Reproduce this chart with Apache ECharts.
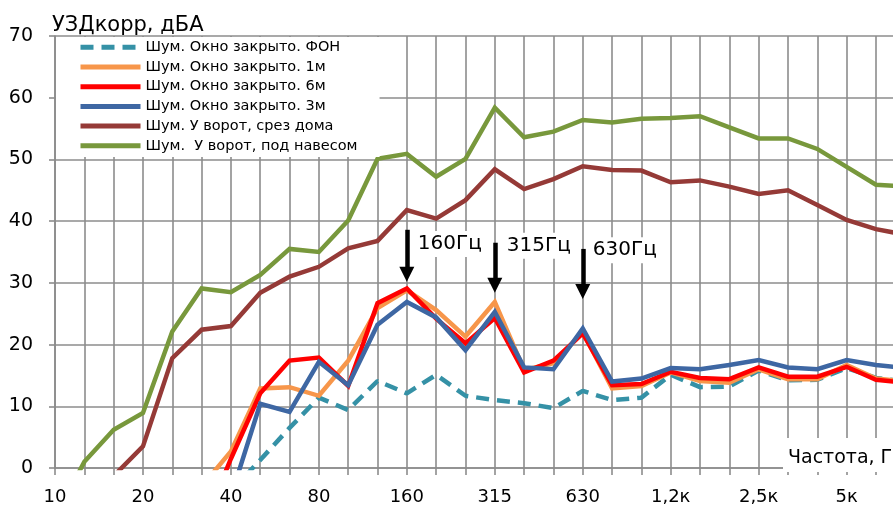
<!DOCTYPE html>
<html>
<head>
<meta charset="utf-8">
<script src="https://cdn.jsdelivr.net/npm/echarts@6/dist/echarts.min.js"></script>
<style>
  html, body { margin: 0; padding: 0; background: #fff; }
  #chart { width: 893px; height: 507px; }
</style>
</head>
<body>
<div id="chart"></div>
<script>
// Third-octave bands, Hz (labels as shown on the axis)
const bands = ['10', '12,5', '16', '20', '25', '31,5', '40', '50', '63', '80', '100', '125',
  '160', '200', '250', '315', '400', '500', '630', '800', '1к', '1,2к', '1,6к', '2к',
  '2,5к', '3,2к', '4к', '5к', '6,3к', '8к'];

// Corrected sound level, dBA, per band
const windowClosedBackground = [null, null, null, null, null, null, -3.8, 1.3, 6.5, 11.4, 9.4, 14.1,
  12.1, 15.1, 11.7, 11.0, 10.5, 9.7, 12.5, 11.0, 11.4, 15.1, 13.1, 13.2,
  15.8, 14.2, 14.3, 16.2, 14.6, 14.0];
const windowClosed1m = [null, null, null, null, null, -3.0, 2.7, 12.9, 13.1, 11.7, 17.4, 25.9,
  28.8, 25.6, 21.3, 26.9, 15.9, 17.0, 22.0, 12.9, 13.3, 15.5, 14.1, 13.8,
  16.0, 14.4, 14.4, 16.7, 14.5, 14.0];
const windowClosed6m = [null, null, null, null, null, -10.0, 1.5, 12.1, 17.4, 17.9, 13.3, 26.7,
  29.1, 24.2, 20.2, 24.3, 15.5, 17.4, 21.8, 13.4, 13.6, 15.6, 14.6, 14.4,
  16.3, 14.8, 14.8, 16.4, 14.3, 13.8];
const windowClosed3m = [null, null, null, null, null, null, -4.6, 10.4, 9.1, 17.2, 13.4, 23.2,
  26.9, 24.4, 19.1, 25.3, 16.3, 16.0, 22.6, 14.0, 14.5, 16.2, 16.0, 16.7,
  17.5, 16.3, 16.0, 17.5, 16.7, 16.2];
const gateHouseEdge = [null, null, -1.3, 3.5, 17.8, 22.4, 23.0, 28.4, 31.0, 32.6, 35.6, 36.8,
  41.8, 40.4, 43.4, 48.4, 45.2, 46.8, 48.9, 48.3, 48.2, 46.3, 46.6, 45.6,
  44.4, 45.0, 42.6, 40.2, 38.7, 37.8];
const gateCanopy = [-8.0, 1.0, 6.2, 8.9, 22.1, 29.1, 28.5, 31.3, 35.5, 35.0, 40.1, 50.1,
  50.9, 47.2, 50.1, 58.4, 53.6, 54.5, 56.4, 56.0, 56.6, 56.7, 57.0, 55.2,
  53.4, 53.4, 51.7, 48.8, 45.9, 45.6];

const seriesNames = [
  'Шум. Окно закрыто. ФОН',
  'Шум. Окно закрыто. 1м',
  'Шум. Окно закрыто. 6м',
  'Шум. Окно закрыто. 3м',
  'Шум. У ворот, срез дома',
  'Шум.  У ворот, под навесом'
];

// Peak callouts: band, arrow top / arrow head centre (dBA), caption level
const callouts = [
  { band: '160', from: 38.6, to: 31.4, text: '160Гц', textAt: 36.3, gap: 10 },
  { band: '315', from: 36.5, to: 29.6, text: '315Гц', textAt: 36.0, gap: 11 },
  { band: '630', from: 35.5, to: 28.6, text: '630Гц', textAt: 35.3, gap: 9 }
];

const FONT = 'DejaVu Sans';
const GRID_COLOR = '#8c8c8c';
const GRID_WIDTH = 1.6;
const STEP = 29.32;

const chart = echarts.init(document.getElementById('chart'), null, { renderer: 'canvas' });

function lineSeries(name, data, color, extra) {
  return Object.assign({
    name: name,
    type: 'line',
    z: 3,
    data: data,
    symbol: 'none',
    showSymbol: false,
    connectNulls: false,
    clip: true,
    silent: true,
    color: color,
    lineStyle: { color: color, width: 4.5, cap: 'butt', join: 'miter' }
  }, extra || {});
}

const gridLine = { show: true, lineStyle: { color: GRID_COLOR, width: GRID_WIDTH, type: 'solid', opacity: 1 } };

chart.setOption({
  animation: false,
  textStyle: { fontFamily: FONT },
  grid: {
    left: 55,
    top: 36,
    height: 432,
    width: STEP * (bands.length - 1),
    containLabel: false,
    outerBoundsMode: 'none'
  },
  legend: {
    orient: 'vertical',
    left: 56,
    top: 37,
    z: 5,
    itemWidth: 60,
    itemHeight: 14,
    itemGap: 4.7,
    padding: [2.8, 22, 3.7, 22],
    backgroundColor: '#fff',
    selectedMode: false,
    itemStyle: { opacity: 0 },
    lineStyle: { width: 5 },
    textStyle: { fontFamily: FONT, fontSize: 14.5, color: '#000', lineHeight: 14 },
    data: seriesNames
  },
  xAxis: {
    type: 'category',
    z: 1,
    data: bands,
    boundaryGap: false,
    axisLine: { show: true, onZero: false, lineStyle: { color: GRID_COLOR, width: GRID_WIDTH } },
    axisTick: { show: true, interval: 0, length: 7, lineStyle: { color: GRID_COLOR, width: GRID_WIDTH } },
    axisLabel: { interval: 2, fontSize: 18, color: '#000', margin: 20, fontFamily: FONT },
    splitLine: Object.assign({ interval: 0 }, gridLine)
  },
  yAxis: {
    type: 'value',
    z: 1,
    min: 0,
    max: 70,
    interval: 10,
    name: 'УЗДкорр, дБА',
    nameLocation: 'end',
    nameGap: 0,
    nameTextStyle: { fontSize: 21, color: '#000', align: 'left', verticalAlign: 'bottom', padding: [0, 0, 0, -3], fontFamily: FONT },
    axisLine: { show: true, lineStyle: { color: GRID_COLOR, width: GRID_WIDTH } },
    axisTick: { show: true, length: 6, lineStyle: { color: GRID_COLOR, width: GRID_WIDTH } },
    axisLabel: { fontSize: 19, color: '#000', margin: 22, fontFamily: FONT },
    splitLine: gridLine
  },
  graphic: [
    {
      type: 'text',
      left: 783,
      top: 438,
      z: 2,
      silent: true,
      style: {
        text: 'Частота, Гц',
        fontFamily: FONT,
        fontSize: 19,
        fill: '#000',
        backgroundColor: '#fff',
        padding: [10.5, 40, 4.5, 5],
        lineHeight: 19
      }
    }
  ],
  series: [
    lineSeries(seriesNames[0], windowClosedBackground, '#3591a6', {
      lineStyle: { color: '#3591a6', width: 4.5, type: [13, 8], cap: 'butt' }
    }),
    lineSeries(seriesNames[1], windowClosed1m, '#f7964a'),
    lineSeries(seriesNames[2], windowClosed6m, '#ff0000', {
      markLine: {
        silent: true,
        symbol: ['none', 'triangle'],
        symbolSize: 15,
        label: { show: false },
        lineStyle: { color: '#000', width: 4.5, type: 'solid' },
        emphasis: { disabled: true },
        data: callouts.map(c => [{ coord: [c.band, c.from] }, { coord: [c.band, c.to] }])
      },
      markPoint: {
        silent: true,
        symbol: 'circle',
        symbolSize: 0,
        itemStyle: { color: 'transparent' },
        label: {
          show: true,
          position: 'right',
          color: '#000',
          fontSize: 20,
          fontFamily: FONT,
          backgroundColor: '#fff',
          padding: [3, 2, 3, 1],
          formatter: p => p.name
        },
        data: callouts.map(c => ({ name: c.text, coord: [c.band, c.textAt], label: { distance: c.gap } }))
      }
    }),
    lineSeries(seriesNames[3], windowClosed3m, '#3e67a3'),
    lineSeries(seriesNames[4], gateHouseEdge, '#953a37'),
    lineSeries(seriesNames[5], gateCanopy, '#78983c')
  ]
});
</script>
</body>
</html>
